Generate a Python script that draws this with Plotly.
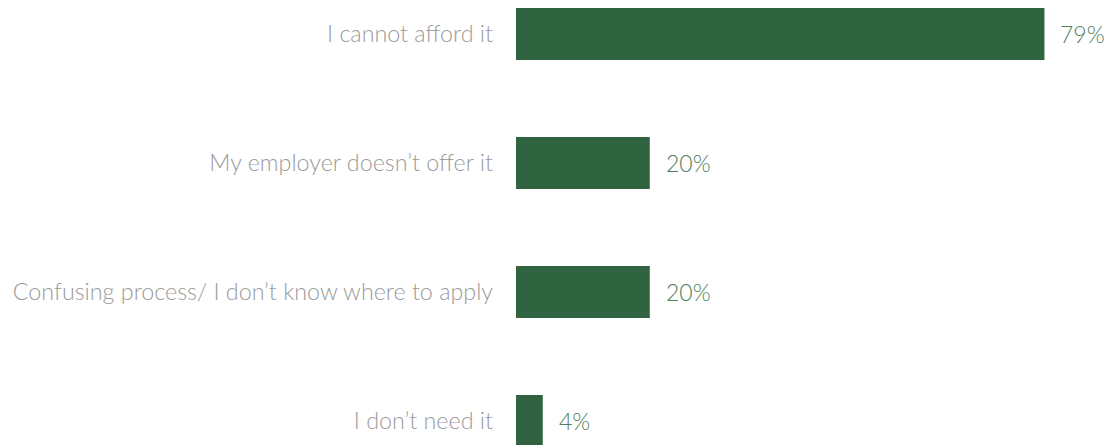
import plotly.graph_objects as go

categories = ["I cannot afford it", "My employer doesn’t offer it",
              "Confusing process/ I don’t know where to apply", "I don’t need it"]
values = [79, 20, 20, 4]
value_labels = ["79%", "20%", "20%", "4%"]

BAR = "#30633f"
fig = go.Figure(go.Bar(
    x=values, y=categories, orientation="h",
    marker=dict(color=BAR, line=dict(width=0)),
    width=0.403, hoverinfo="skip",
))

for c, v, t in zip(categories, values, value_labels):
    fig.add_annotation(x=v, y=c, text=t, showarrow=False, xanchor="left",
                       xshift=14, font=dict(family="Lato", size=23, color="#4f7f5d", weight=300))

fig.update_layout(
    width=1110, height=445,
    margin=dict(l=516, r=0, t=0, b=0),
    paper_bgcolor="white", plot_bgcolor="white",
    showlegend=False,
    xaxis=dict(range=[0, 88.8], visible=False),
    yaxis=dict(categoryorder="array", categoryarray=categories,
               range=[3.186, -0.2636], showgrid=False, zeroline=False,
               showline=False, ticks="", ticklabelstandoff=22,
               tickfont=dict(family="Lato", size=23.3, color="#9a9a9a", weight=300)),
)
fig.write_html("out.html")
